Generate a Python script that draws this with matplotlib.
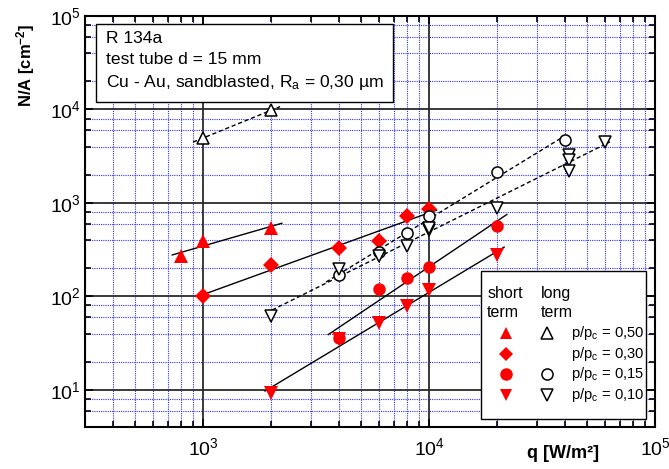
import numpy as np
import matplotlib.pyplot as plt
from matplotlib.ticker import LogLocator, NullFormatter
from matplotlib.patches import Rectangle

plt.rcParams['font.family'] = ['Liberation Sans', 'DejaVu Sans']
plt.rcParams['mathtext.fontset'] = 'custom'
plt.rcParams['mathtext.rm'] = 'Liberation Sans'
plt.rcParams['mathtext.it'] = 'Liberation Sans:italic'
plt.rcParams['mathtext.bf'] = 'Liberation Sans:bold'

# --- data (q in W/m2, N/A in cm^-2) ---
# short term (filled red)
q_s50 = [800, 1000, 2000]
n_s50 = [270, 390, 545]
q_s30 = [1000, 2000, 4000, 6000, 8000, 10000]
n_s30 = [102, 219, 331, 390, 720, 860]
q_s15 = [4000, 6000, 8000, 10000, 20000]
n_s15 = [36, 119, 158, 208, 572]
q_s10 = [2000, 4000, 6000, 8000, 10000, 20000]
n_s10 = [9.3, 35, 52, 78, 118, 279]

# long term (hollow black)
q_l50 = [1000, 2000]
n_l50 = [4950, 9800]
q_l15 = [4000, 6000, 8000, 10000, 20000, 40000]
n_l15 = [170, 295, 482, 717, 2160, 4700]
q_l10 = [2000, 4000, 6000, 8000, 10000, 10000, 20000, 41500, 41500, 41500, 60000]
n_l10 = [62, 198, 272, 348, 510, 540, 880, 3250, 2880, 2210, 4450]

# q range over which each power-law fit is drawn
fit_s50 = [730, 2230]
fit_s30 = [955, 10800]
fit_s15 = [3580, 22100]
fit_s10 = [1880, 21500]
fit_l50 = [903, 2190]
fit_l15 = [3500, 39200]
fit_l10 = [2020, 63200]

legend_labels = ["p/p$_\\mathregular{c}$ = 0,50", "p/p$_\\mathregular{c}$ = 0,30",
                 "p/p$_\\mathregular{c}$ = 0,15", "p/p$_\\mathregular{c}$ = 0,10"]
box_lines = ["R 134a", "test tube d = 15 mm",
             "Cu - Au, sandblasted, R$_\\mathregular{a}$ = 0,30 µm"]


def fit_line(q, n, qr):
    k, c = np.polyfit(np.log10(q), np.log10(n), 1)
    qq = np.array(qr, dtype=float)
    return qq, 10 ** (c + k * np.log10(qq))


fig = plt.figure(figsize=(6.69, 4.69), dpi=100)
ax = fig.add_axes([85 / 669, 42 / 469, 570 / 669, 411 / 469])
ax.set_xscale('log')
ax.set_yscale('log')
ax.set_xlim(300, 1e5)
ax.set_ylim(4, 1e5)

# --- fit lines ---
for q, n, qr in [(q_s50, n_s50, fit_s50), (q_s30, n_s30, fit_s30),
                 (q_s15, n_s15, fit_s15), (q_s10, n_s10, fit_s10)]:
    x, y = fit_line(q, n, qr)
    ax.plot(x, y, color='black', lw=1, zorder=3)
for q, n, qr in [(q_l50, n_l50, fit_l50), (q_l15, n_l15, fit_l15), (q_l10, n_l10, fit_l10)]:
    x, y = fit_line(q, n, qr)
    ax.plot(x, y, color='black', lw=1, ls=(0, (3, 2)), zorder=3)

# --- markers ---
red = dict(color='red', ls='none', mew=0, zorder=4)
ax.plot(q_s50, n_s50, marker='^', ms=10, **red)
ax.plot(q_s30, n_s30, marker='D', ms=8, **red)
ax.plot(q_s15, n_s15, marker='o', ms=9, **red)
ax.plot(q_s10, n_s10, marker='v', ms=10, **red)

hol = dict(ls='none', mfc='white', mec='black', mew=1.1, zorder=5)
ax.plot(q_l50, n_l50, marker='^', ms=9, **hol)
ax.plot(q_l15, n_l15, marker='o', ms=8, **hol)
ax.plot(q_l10, n_l10, marker='v', ms=9, **hol)

# --- grid and ticks ---
ax.xaxis.set_minor_locator(LogLocator(base=10, subs=np.arange(2, 10), numticks=20))
ax.yaxis.set_minor_locator(LogLocator(base=10, subs=[2, 4, 6, 8], numticks=20))
ax.xaxis.set_minor_formatter(NullFormatter())
ax.yaxis.set_minor_formatter(NullFormatter())
ax.grid(which='major', color='#2a2a2a', lw=1.3, ls='-', zorder=1)
ax.grid(which='minor', color='#3030ff', lw=0.8, ls=(0, (1, 1)), zorder=1)
ax.set_axisbelow(True)
ax.tick_params(which='both', direction='in', top=True, right=True, width=1.2)
ax.tick_params(which='major', length=6)
ax.tick_params(which='minor', length=4)
ax.tick_params(axis='x', which='major', labelsize=14, pad=7)
ax.tick_params(axis='y', which='major', labelsize=14, pad=3)
for s in ax.spines.values():
    s.set_linewidth(1.5)

ax.set_ylabel("N/A [cm$^\\mathregular{-2}$]", fontsize=12, fontweight='bold')
ax.yaxis.set_label_coords(-0.085, 0.88)
ax.set_xlabel("q [W/m²]", fontsize=13, fontweight='bold')
ax.xaxis.set_label_coords(0.839, -0.045)

# --- info box ---
ax.text(0.036, 0.963, "\n".join(box_lines), transform=ax.transAxes, fontsize=12.6,
        va='top', ha='left', linespacing=1.45, zorder=10,
        bbox=dict(boxstyle='square,pad=0.55', fc='white', ec='black', lw=1))

# --- legend drawn by hand ---
ax.add_patch(Rectangle((0.695, 0.0195), 0.289, 0.36, transform=ax.transAxes,
                       fc='white', ec='black', lw=1, zorder=10))
ax.text(0.7055, 0.302, "short\nterm", transform=ax.transAxes, fontsize=11.5,
        va='center', ha='left', linespacing=1.3, zorder=11)
ax.text(0.8, 0.302, "long\nterm", transform=ax.transAxes, fontsize=11.5,
        va='center', ha='left', linespacing=1.3, zorder=11)
short_keys = ['^', 'D', 'o', 'v']
long_keys = ['^', None, 'o', 'v']
for i in range(4):
    yy = 0.2287 - i * 0.0503
    ax.plot(0.738, yy, marker=short_keys[i], color='red', mew=0,
            ms=9 if short_keys[i] != 'D' else 7, transform=ax.transAxes, zorder=11)
    if long_keys[i]:
        ax.plot(0.811, yy, marker=long_keys[i], mfc='white', mec='black', mew=1.1,
                ms=8, transform=ax.transAxes, zorder=11)
    ax.text(0.852, yy, legend_labels[i], transform=ax.transAxes, fontsize=10.6,
            va='center', ha='left', zorder=11)

fig.savefig("out.png", dpi=100)
